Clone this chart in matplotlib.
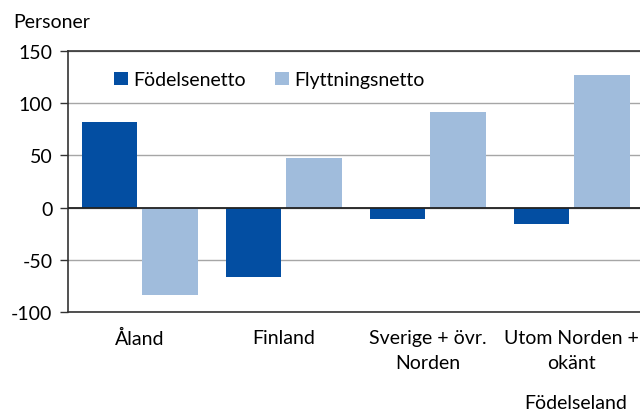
import matplotlib
matplotlib.use('Agg')
import matplotlib.pyplot as plt
import numpy as np

plt.rcParams['font.family'] = ['Lato', 'DejaVu Sans']

categories = ['Åland', 'Finland', 'Sverige + övr.\nNorden', 'Utom Norden +\nokänt']
fodelsenetto = [82, -66, -11, -16]
flyttningsnetto = [-84, 48, 92, 127]
yticks = [-100, -50, 0, 50, 100, 150]

dark = '#034EA2'
light = '#A0BCDC'

fig = plt.figure(figsize=(6.4, 4.14), dpi=100)
ax = fig.add_axes([0.1058, 0.244, 0.900, 0.630])

x = np.arange(len(categories))
w = 0.387
off = 0.209
ax.bar(x - off, fodelsenetto, w, color=dark, label='Födelsenetto', zorder=3)
ax.bar(x + off, flyttningsnetto, w, color=light, label='Flyttningsnetto', zorder=3)

ax.set_xlim(-0.5, 3.5)
ax.set_ylim(-100, 150)
ax.set_yticks(yticks)
ax.set_yticklabels([str(t) for t in yticks], fontsize=14)
ax.set_xticks(x)
ax.set_xticklabels(categories, fontsize=14, linespacing=1.6)
ax.tick_params(axis='x', length=0, pad=12)
ax.tick_params(axis='y', length=6, width=1, color='#333333', pad=5)

ax.grid(axis='y', color='#A6A6A6', linewidth=1, zorder=0)
ax.axhline(0, color='#222222', linewidth=1.3, zorder=4)
for s in ['left', 'bottom', 'top']:
    ax.spines[s].set_color('#333333')
    ax.spines[s].set_linewidth(1.2)
ax.spines['right'].set_visible(False)

ax.legend(loc='upper left', bbox_to_anchor=(0.05, 0.99), ncol=2, frameon=False,
          fontsize=14, handlelength=0.7, handleheight=0.7, handletextpad=0.3,
          columnspacing=1.5)

fig.text(0.02, 0.945, 'Personer', fontsize=14, va='center', ha='left')
fig.text(0.98, 0.026, 'Födelseland', fontsize=14, va='center', ha='right')

fig.savefig('out.png', dpi=100)
